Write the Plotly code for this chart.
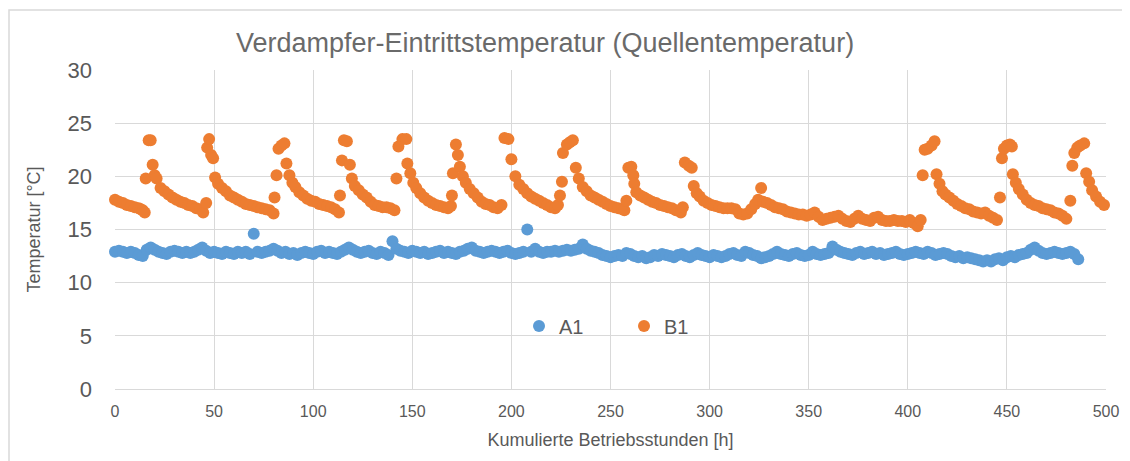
import plotly.graph_objects as go

# --- data ---
series_names = ["A1", "B1"]

# A1: sampled every 2 h from 0 to 486 h
a1_hours = list(range(0, 488, 2))
a1_temp = [
    12.9, 13.0, 12.9, 12.8, 12.9, 12.8, 12.6, 12.5, 13.1, 13.3,
    13.1, 12.9, 12.8, 12.7, 12.9, 13.0, 12.9, 12.8, 12.9, 12.8,
    12.9, 13.1, 13.3, 13.0, 12.8, 12.9, 12.8, 12.7, 12.9, 12.8,
    12.7, 12.9, 12.8, 12.9, 12.7, 14.6, 12.9, 12.8, 12.9, 13.0,
    13.2, 13.0, 12.8, 12.9, 12.7, 12.8, 12.6, 12.8, 12.9, 12.8,
    12.7, 12.9, 13.0, 12.8, 12.9, 12.8, 12.7, 12.9, 13.1, 13.3,
    13.1, 12.9, 12.8, 12.9, 13.0, 12.8, 12.7, 12.9, 12.8, 12.6,
    13.9, 13.2, 13.0, 12.9, 12.8, 13.0, 12.9, 12.8, 12.9, 12.7,
    12.8, 12.9, 13.0, 12.8, 12.9, 12.8, 12.7, 12.9, 13.0, 13.2,
    13.3, 13.0, 12.9, 12.8, 12.9, 13.0, 12.9, 12.8, 12.9, 13.0,
    12.8, 12.7, 12.8, 12.9, 15.0, 12.9, 13.2, 12.9, 12.8, 12.9,
    12.9, 13.0, 12.9, 13.0, 13.1, 13.0, 13.1, 13.2, 13.6, 13.2,
    13.0, 12.9, 12.8, 12.6, 12.5, 12.4, 12.5, 12.6, 12.5, 12.8,
    12.7, 12.5, 12.4, 12.5, 12.3, 12.4, 12.6, 12.5, 12.7, 12.6,
    12.5, 12.4, 12.6, 12.7, 12.5, 12.4, 12.6, 12.8, 12.6, 12.5,
    12.4, 12.6, 12.5, 12.4, 12.5, 12.7, 12.8, 12.6, 12.5, 12.9,
    12.8, 12.6, 12.5, 12.3, 12.4, 12.5, 12.7, 12.9, 12.7, 12.6,
    12.5, 12.7, 12.8, 12.6, 12.5, 12.6, 12.9, 12.7, 12.6, 12.7,
    12.8, 13.4, 13.1, 12.9, 12.8, 12.7, 12.6, 12.8, 12.9, 12.7,
    12.8, 12.9, 12.7, 12.8, 12.6, 12.7, 12.8, 12.9, 12.7, 12.6,
    12.7, 12.8, 12.9, 12.8, 12.7, 12.9, 12.8, 12.6, 12.7, 12.8,
    12.7, 12.5, 12.4, 12.5, 12.3, 12.4, 12.3, 12.2, 12.1, 12.0,
    12.1, 12.0, 12.2, 12.3, 12.1, 12.4, 12.5, 12.4, 12.6, 12.7,
    12.8, 13.1, 13.3, 13.0, 12.8, 12.7, 12.8, 12.9, 12.8, 12.7,
    12.8, 12.9, 12.7, 12.2,
]

# B1: irregular times around the temperature jumps
b1_hours = [
    0, 2, 4, 6, 8, 10, 12, 13, 14, 15,
    15.5, 17, 18, 19, 20, 21, 23, 25, 27, 29,
    31, 33, 35, 37, 39, 41, 43, 44.5, 46, 46.5,
    47.5, 48.5, 49.5, 50.5, 52, 54, 56, 58, 60, 62,
    64, 66, 68, 70, 72, 74, 76, 78, 80, 80.5,
    81.5, 82.5, 84, 85.5, 86.5, 88, 89.5, 91, 93, 95,
    97, 99, 101, 103, 105, 107, 109, 111, 113, 113.5,
    114.5, 115.5, 117, 118.5, 119.5, 121, 123, 125, 127, 129,
    131, 133, 135, 137, 139, 141, 142, 143, 145, 147,
    147.5, 149, 150.5, 152, 154, 156, 158, 160, 162, 164,
    166, 168, 169.5, 170, 170.5, 172, 173, 174, 175.5, 177,
    179, 181, 183, 185, 187, 189, 191, 193, 195, 196.5,
    198.5, 200, 202, 204, 206, 208, 210, 212, 214, 216,
    218, 220, 222, 223.5, 224.5, 225.5, 226, 228, 229.5, 231,
    232.5, 234, 236, 238, 240, 242, 244, 246, 248, 250,
    252, 254, 256, 257, 258, 259, 260.5, 261.5, 262, 263,
    265, 267, 269, 271, 273, 275, 277, 279, 281, 283,
    285.5, 286.5, 287.5, 289.5, 291, 292, 293.5, 295, 297, 299,
    301, 303, 305, 307, 309, 311, 313, 315, 317, 319,
    321, 323, 324.5, 326, 327, 329, 331, 333, 335, 337,
    339, 341, 343, 345, 347, 349, 351, 353, 355, 357,
    359, 361, 363, 365, 367, 369, 371, 373, 375, 377,
    379, 381, 383, 385, 387, 389, 391, 393, 395, 397,
    399, 401, 403, 405, 406.5, 407.5, 408.5, 410, 412, 413.5,
    414.5, 416, 417.5, 419, 421, 423, 425, 427, 429, 431,
    433, 435, 437, 439, 441, 443, 445, 446.5, 447.5, 448.5,
    450, 451.5, 452.5, 453, 454.5, 456, 458, 460, 462, 464,
    466, 468, 470, 472, 474, 476, 478, 480, 482, 483,
    484, 485.5, 487, 489, 490, 491.5, 493, 495, 497, 499,
]
b1_temp = [
    17.8, 17.6, 17.5, 17.3, 17.2, 17.1, 17.0, 16.9, 16.8, 16.6,
    19.8, 23.4, 23.4, 21.1, 20.1, 19.8, 18.9, 18.6, 18.3, 18.0,
    17.8, 17.6, 17.5, 17.3, 17.2, 17.0, 16.9, 16.6, 17.5, 22.7,
    23.5, 22.0, 21.7, 19.9, 19.3, 18.9, 18.6, 18.2, 18.0, 17.8,
    17.6, 17.4, 17.3, 17.2, 17.1, 17.0, 16.9, 16.8, 16.5, 18.0,
    20.1, 22.6, 22.9, 23.1, 21.2, 20.1, 19.4, 19.0, 18.5, 18.2,
    17.9, 17.7, 17.6, 17.4, 17.3, 17.2, 17.1, 16.9, 16.6, 18.2,
    21.5, 23.4, 23.3, 21.1, 19.8, 19.1, 18.7, 18.3, 18.0, 17.6,
    17.3, 17.2, 17.1, 17.1, 17.0, 16.8, 19.8, 22.8, 23.5, 23.5,
    21.2, 20.3, 19.4, 18.9, 18.4, 18.0, 17.7, 17.5, 17.3, 17.2,
    17.1, 17.0, 17.2, 18.2, 20.3, 23.0, 22.0, 20.9, 20.0, 19.4,
    18.8, 18.4, 18.0, 17.6, 17.4, 17.3, 17.1, 17.0, 17.3, 23.6,
    23.5, 21.6, 20.0, 19.2, 18.8, 18.4, 18.1, 17.9, 17.7, 17.5,
    17.3, 17.1, 17.0, 17.3, 18.2, 19.5, 22.2, 23.0, 23.2, 23.4,
    20.8, 19.8, 19.0, 18.6, 18.2, 18.0, 17.8, 17.6, 17.4, 17.2,
    17.1, 17.0, 16.9, 16.8, 17.7, 20.8, 20.9, 20.1, 19.3, 18.5,
    18.2, 18.0, 17.8, 17.6, 17.5, 17.3, 17.2, 17.1, 17.0, 16.8,
    16.6, 17.1, 21.3, 21.0, 20.8, 19.1, 18.4, 18.1, 17.7, 17.5,
    17.3, 17.2, 17.1, 17.0, 17.0, 17.0, 16.9, 16.5, 16.4, 16.5,
    16.9, 17.4, 17.8, 18.9, 17.6, 17.5, 17.3, 17.1, 17.0, 16.9,
    16.7, 16.6, 16.5, 16.4, 16.4, 16.3, 16.4, 16.6, 16.2, 15.9,
    16.0, 16.1, 16.2, 16.3, 16.0, 15.8, 15.7, 16.0, 16.3, 16.0,
    15.9, 15.8, 16.1, 16.2, 15.9, 15.8, 15.8, 15.9, 15.8, 15.8,
    15.7, 15.9, 15.6, 15.3, 15.9, 20.1, 22.5, 22.6, 22.9, 23.3,
    20.2, 19.3, 18.6, 18.3, 18.0, 17.7, 17.4, 17.2, 17.0, 16.9,
    16.7, 16.6, 16.5, 16.6, 16.3, 16.1, 15.9, 18.0, 21.7, 22.6,
    22.9, 23.0, 22.8, 20.2, 19.4, 18.8, 18.3, 17.8, 17.5, 17.3,
    17.2, 17.0, 16.9, 16.8, 16.6, 16.5, 16.3, 16.0, 17.7, 21.0,
    22.2, 22.7, 22.9, 23.1, 20.3, 19.5, 18.7, 18.1, 17.6, 17.3,
]

x_ticks = [0, 50, 100, 150, 200, 250, 300, 350, 400, 450, 500]
y_ticks = [0, 5, 10, 15, 20, 25, 30]

colors = ["#5B9BD5", "#ED7D31"]
grey_text = "#595959"
grid = "#D9D9D9"
font = "Liberation Sans, Arial, sans-serif"

# the page body adds an 8 px offset, so margins are shifted by that amount
L, T, R, B = 107, 62, 32, 80
plot_w = 1130 - L - R
plot_h = 461 - T - B

fig = go.Figure()
for name, xs, ys, c in zip(series_names, [a1_hours, b1_hours], [a1_temp, b1_temp], colors):
    fig.add_trace(go.Scatter(
        x=xs, y=ys, name=name, mode="markers",
        marker=dict(color=c, size=12, line=dict(width=0)),
        cliponaxis=False,
    ))

fig.update_layout(
    width=1130, height=461,
    margin=dict(l=L, r=R, t=T, b=B),
    paper_bgcolor="white", plot_bgcolor="white",
    font=dict(family=font, color=grey_text),
    title=dict(
        text="Verdampfer-Eintrittstemperatur (Quellentemperatur)",
        x=537 / 1130, xref="container", xanchor="center",
        y=1 - 35 / 461, yref="container", yanchor="middle",
        font=dict(size=27, color="#6a6a6a"),
    ),
    legend=dict(
        orientation="h", x=(511 - L) / plot_w, y=(381 - 318) / plot_h,
        xanchor="left", yanchor="middle",
        font=dict(size=20, color=grey_text), bgcolor="rgba(0,0,0,0)",
        entrywidth=60, itemwidth=30,
    ),
    showlegend=True,
)

fig.update_xaxes(
    range=[0, 500], tickvals=x_ticks, showgrid=True, gridcolor=grid, gridwidth=1,
    zeroline=False, showline=True, linecolor=grid,
    tickfont=dict(size=16, color=grey_text), ticklabelstandoff=8,
    title=dict(text="Kumulierte Betriebsstunden [h]", font=dict(size=18, color=grey_text), standoff=14),
)
fig.update_yaxes(
    range=[0, 30], tickvals=y_ticks, showgrid=True, gridcolor=grid, gridwidth=1,
    zeroline=False, showline=False,
    tickfont=dict(size=22, color=grey_text), ticklabelstandoff=22,
    title=dict(text="Temperatur [°C]", font=dict(size=18, color=grey_text), standoff=22),
)

# light chart border like the source screenshot
fig.add_shape(
    type="rect", xref="paper", yref="paper",
    x0=(1 - L) / plot_w, x1=1.1, y0=-0.4, y1=(461 - B - 2) / plot_h,
    line=dict(color="#D9D9D9", width=1.5), layer="below",
)

fig.write_html("out.html")
